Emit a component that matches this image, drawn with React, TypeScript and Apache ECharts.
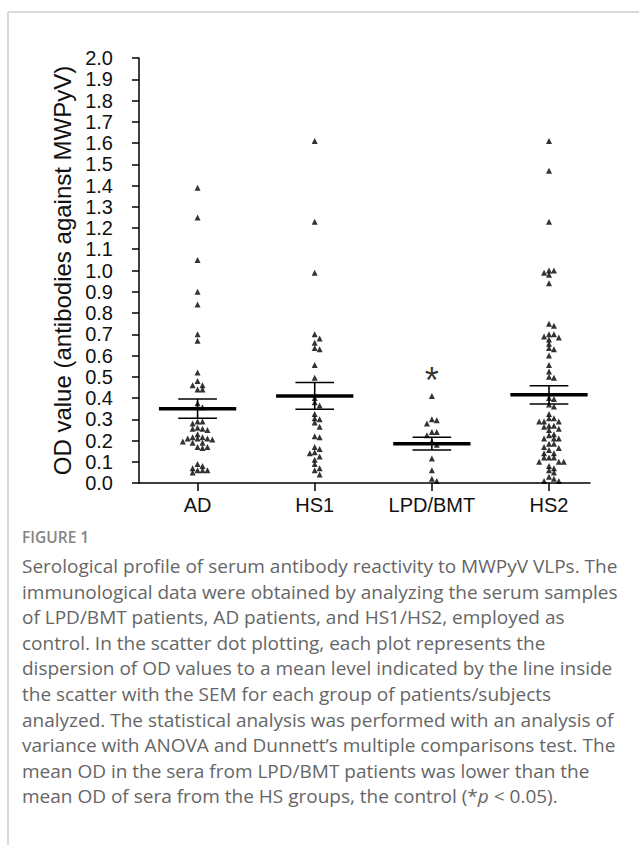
import React, { useEffect, useRef } from "react";
import * as echarts from "echarts";

const categories = ["AD", "HS1", "LPD/BMT", "HS2"];

const adValues = [
  1.39, 1.25, 1.05, 0.9, 0.84, 0.7, 0.67, 0.52, 0.48, 0.46, 0.46, 0.44, 0.44,
  0.375, 0.357, 0.29, 0.29, 0.28, 0.26, 0.255, 0.255, 0.25, 0.23, 0.215, 0.215,
  0.21, 0.21, 0.21, 0.205, 0.19, 0.195, 0.19, 0.17, 0.17, 0.165, 0.09, 0.08,
  0.07, 0.06, 0.06, 0.06, 0.05,
];
const hs1Values = [
  1.61, 1.23, 0.99, 0.7, 0.68, 0.66, 0.635, 0.63, 0.555, 0.495, 0.4, 0.38,
  0.365, 0.325, 0.305, 0.3, 0.285, 0.265, 0.22, 0.215, 0.17, 0.16, 0.145, 0.14,
  0.125, 0.11, 0.09, 0.07, 0.06, 0.04,
];
const lpdValues = [
  0.41, 0.3, 0.295, 0.28, 0.24, 0.24, 0.225, 0.195, 0.18, 0.115, 0.06, 0.02,
  0.01,
];
const hs2Values = [
  1.61, 1.47, 1.23, 1.0, 1.0, 0.99, 0.98, 0.94, 0.75, 0.74, 0.7, 0.7, 0.69,
  0.685, 0.675, 0.655, 0.635, 0.63, 0.6, 0.555, 0.525, 0.5, 0.495, 0.4, 0.395,
  0.37, 0.36, 0.325, 0.305, 0.305, 0.29, 0.29, 0.29, 0.27, 0.27, 0.265, 0.255,
  0.25, 0.23, 0.225, 0.21, 0.21, 0.21, 0.185, 0.185, 0.17, 0.165, 0.155, 0.14,
  0.14, 0.12, 0.12, 0.12, 0.1, 0.1, 0.1, 0.08, 0.07, 0.06, 0.05, 0.03, 0.02,
  0.01, 0.01,
];
const groupMeans = [0.35, 0.41, 0.185, 0.415];
const groupSems = [0.045, 0.063, 0.03, 0.043];
const significanceGroup = 3;
const significanceValue = 0.51;
const significanceMark = "*";

const yAxisTitle = "OD value (antibodies against MWPyV)";
const figureLabel = "FIGURE 1";
const captionLines = [
  "Serological profile of serum antibody reactivity to MWPyV VLPs. The",
  "immunological data were obtained by analyzing the serum samples",
  "of LPD/BMT patients, AD patients, and HS1/HS2, employed as",
  "control. In the scatter dot plotting, each plot represents the",
  "dispersion of OD values to a mean level indicated by the line inside",
  "the scatter with the SEM for each group of patients/subjects",
  "analyzed. The statistical analysis was performed with an analysis of",
  "variance with ANOVA and Dunnett\u2019s multiple comparisons test. The",
  "mean OD in the sera from LPD/BMT patients was lower than the",
];
const captionLastStart = "mean OD of sera from the HS groups, the control (*";
const captionLastItalic = "p";
const captionLastEnd = " < 0.05).";

// deterministic beeswarm layout: spread points that would overlap
function beeswarm(values: number[], center: number, vThr: number, step: number) {
  const sorted = [...values].sort((a, b) => b - a);
  const placed: number[][] = [];
  for (const v of sorted) {
    let off = 0;
    for (let i = 0; i < 40; i++) {
      off = i === 0 ? 0 : (i % 2 === 1 ? 1 : -1) * Math.ceil(i / 2) * step;
      const x = center + off;
      const clash = placed.some(
        (p) => Math.abs(p[1] - v) < vThr && Math.abs(p[0] - x) < step * 0.9
      );
      if (!clash) break;
    }
    placed.push([center + off, v]);
  }
  return placed;
}

export default function App() {
  const ref = useRef<HTMLDivElement>(null);
  useEffect(() => {
    if (!ref.current) return;
    const chart = echarts.init(ref.current, undefined, { renderer: "svg" });
    const groups = [adValues, hs1Values, lpdValues, hs2Values];
    const points: number[][] = [];
    groups.forEach((g, i) => {
      beeswarm(g, i + 1, 0.02, 0.042).forEach((p) => points.push(p));
    });

    const captionTop = 566;
    const lineH = 25.6;
    const captionFont = "Open Sans";
    const captionColor = "#666666";
    const captionSize = 19;

    const graphic: any[] = [
      {
        type: "line",
        shape: { x1: 8, y1: 12, x2: 639, y2: 12 },
        style: { stroke: "#cccccc", lineWidth: 1.5 },
        silent: true,
      },
      {
        type: "line",
        shape: { x1: 8, y1: 12, x2: 8, y2: 845 },
        style: { stroke: "#cccccc", lineWidth: 1.5 },
        silent: true,
      },
      {
        type: "text",
        x: 22,
        y: 537,
        style: {
          text: figureLabel,
          fontSize: 15.5,
          fontFamily: captionFont,
          fontWeight: 600,
          fill: "#858585",
          verticalAlign: "middle",
        },
      },
    ];
    captionLines.forEach((t, i) => {
      graphic.push({
        type: "text",
        x: 22,
        y: captionTop + i * lineH,
        style: {
          text: t,
          fontSize: captionSize,
          fontFamily: captionFont,
          fill: captionColor,
          verticalAlign: "middle",
        },
      });
    });
    graphic.push({
      type: "text",
      x: 22,
      y: captionTop + captionLines.length * lineH,
      style: {
        text: `{n|${captionLastStart}}{i|${captionLastItalic}}{n|${captionLastEnd}}`,
        verticalAlign: "middle",
        rich: {
          n: { fontSize: captionSize, fontFamily: captionFont, fill: captionColor },
          i: {
            fontSize: captionSize,
            fontFamily: captionFont,
            fill: captionColor,
            fontStyle: "italic",
          },
        },
      },
    });

    chart.setOption({
      animation: false,
      backgroundColor: "#ffffff",
      grid: { left: 139, right: 49, top: 58, bottom: 362, containLabel: false },
      xAxis: {
        type: "value",
        min: 0.5,
        max: 4.35,
        splitLine: { show: false },
        axisLine: { show: true, onZero: false, lineStyle: { color: "#000", width: 1.5 } },
        axisTick: {
          show: true,
          customValues: [1, 2, 3, 4],
          length: 8,
          lineStyle: { color: "#000", width: 1.5 },
        },
        axisLabel: {
          show: true,
          customValues: [1, 2, 3, 4],
          formatter: (v: number) => categories[Math.round(v) - 1] ?? "",
          fontSize: 20,
          fontFamily: "Liberation Sans",
          color: "#111",
          margin: 12,
        },
      },
      yAxis: {
        type: "value",
        min: 0,
        max: 2,
        interval: 0.1,
        splitLine: { show: false },
        axisLine: { show: true, lineStyle: { color: "#000", width: 1.5 } },
        axisTick: { show: true, length: 7, lineStyle: { color: "#000", width: 1.5 } },
        axisLabel: {
          formatter: (v: number) => v.toFixed(1),
          fontSize: 20,
          fontFamily: "Liberation Sans",
          color: "#111",
          margin: 26,
        },
        name: yAxisTitle,
        nameLocation: "middle",
        nameRotate: 90,
        nameGap: 47,
        nameTextStyle: { fontSize: 24, fontFamily: "Liberation Sans", color: "#111" },
      },
      series: [
        {
          type: "scatter",
          data: points,
          symbol: "triangle",
          symbolSize: 6,
          itemStyle: { color: "#000" },
          z: 2,
        },
        {
          type: "custom",
          data: groupMeans.map((m, i) => [i + 1, m, groupSems[i]]),
          renderItem: (params: any, api: any) => {
            const x = api.value(0);
            const m = api.value(1);
            const s = api.value(2);
            const c = api.coord([x, m]);
            const t = api.coord([x, m + s]);
            const b = api.coord([x, m - s]);
            const half = api.size([0.33, 0])[0];
            const wh = api.size([0.165, 0])[0];
            const st = { stroke: "#000", lineWidth: 1.6 };
            return {
              type: "group",
              children: [
                { type: "line", shape: { x1: c[0], y1: t[1], x2: c[0], y2: b[1] }, style: st },
                { type: "line", shape: { x1: c[0] - wh, y1: t[1], x2: c[0] + wh, y2: t[1] }, style: st },
                { type: "line", shape: { x1: c[0] - wh, y1: b[1], x2: c[0] + wh, y2: b[1] }, style: st },
                {
                  type: "line",
                  shape: { x1: c[0] - half, y1: c[1], x2: c[0] + half, y2: c[1] },
                  style: { stroke: "#000", lineWidth: 3.5 },
                },
              ],
            };
          },
          z: 3,
        },
        {
          type: "scatter",
          data: [[significanceGroup, significanceValue]],
          symbolSize: 1,
          itemStyle: { color: "transparent" },
          label: {
            show: true,
            position: "inside",
            formatter: significanceMark,
            fontSize: 36,
            fontFamily: "Liberation Sans",
            color: "#000",
            offset: [0, 6],
          },
        },
      ],
      graphic,
    });
    return () => chart.dispose();
  }, []);
  return (
    <div
      ref={ref}
      style={{ position: "absolute", left: 0, top: 0, width: 639, height: 845 }}
    />
  );
}
